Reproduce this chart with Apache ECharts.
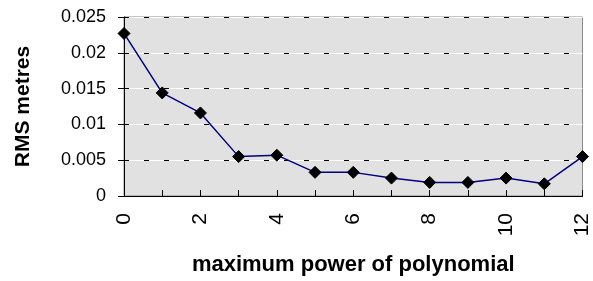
<!DOCTYPE html>
<html>
<head>
<meta charset="utf-8">
<script src="https://cdn.jsdelivr.net/npm/echarts@6/dist/echarts.min.js"></script>
<style>html,body{margin:0;padding:0;background:#fff}#main{width:593px;height:281px}</style>
</head>
<body>
<div id="main"></div>
<script>
// maximum power of polynomial vs RMS (metres)
var powers = [0, 1, 2, 3, 4, 5, 6, 7, 8, 9, 10, 11, 12];
var rms = [0.0227, 0.0144, 0.0116, 0.0055, 0.0057, 0.0033, 0.0033, 0.0025, 0.0019, 0.0019, 0.0025, 0.0017, 0.0055];
var yTicks = [0, 0.005, 0.01, 0.015, 0.02, 0.025];

var chart = echarts.init(document.getElementById('main'));
var font = 'Liberation Sans, Arial, sans-serif';
var points = powers.map(function (p, i) { return [p, rms[i]]; });

chart.setOption({
    animation: false,
    grid: {left: 124, right: 10, top: 17, bottom: 84, show: true, backgroundColor: '#e1e1e1', borderColor: '#8a8a8a', borderWidth: 1},
    xAxis: {
        type: 'value', min: 0, max: 12, interval: 1,
        axisLine: {onZero: false, lineStyle: {color: '#000', width: 1}},
        axisTick: {inside: true, length: 6, lineStyle: {color: '#000'}},
        splitLine: {show: false},
        axisLabel: {rotate: 90, margin: 17, color: '#000', fontFamily: font, fontSize: 21,
            formatter: function (v) { return v % 2 === 0 ? String(v) : ''; }},
        name: 'maximum power of polynomial', nameLocation: 'middle', nameGap: 58,
        nameTextStyle: {color: '#000', fontFamily: font, fontSize: 22, fontWeight: 'bold'}
    },
    yAxis: [{
        type: 'value', min: yTicks[0], max: yTicks[yTicks.length - 1], interval: 0.005,
        axisLine: {show: true, lineStyle: {color: '#000', width: 1}},
        axisTick: {show: true, length: 6, lineStyle: {color: '#000'}},
        splitLine: {show: true, lineStyle: {color: '#ffffff', width: 1, type: 'solid'}},
        axisLabel: {margin: 18, color: '#000', fontFamily: font, fontSize: 18,
            formatter: function (v) { return String(+v.toFixed(3)); }},
        name: 'RMS metres', nameLocation: 'middle', nameGap: 90, nameRotate: 90,
        nameTextStyle: {color: '#000', fontFamily: font, fontSize: 21, fontWeight: 'bold'}
    }, {
        type: 'value', min: yTicks[0], max: yTicks[yTicks.length - 1], interval: 0.005, position: 'left',
        axisLine: {show: false}, axisTick: {show: false}, axisLabel: {show: false},
        splitLine: {show: true, lineStyle: {color: '#000', width: 1, type: [5, 15]}}
    }],
    series: [{
        type: 'line', data: points, yAxisIndex: 0,
        symbol: 'diamond', symbolSize: 12,
        lineStyle: {color: '#000080', width: 1.5},
        itemStyle: {color: '#000', borderColor: '#000'},
        z: 5
    }]
});
</script>
</body>
</html>
